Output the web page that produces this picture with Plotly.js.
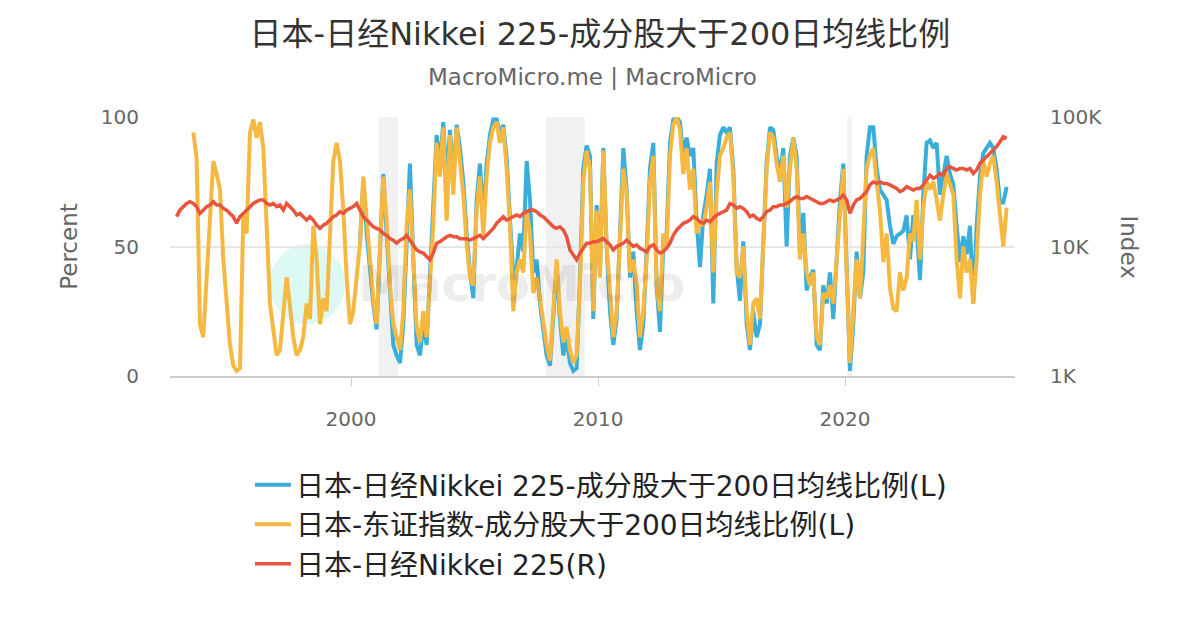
<!DOCTYPE html>
<html>
<head>
<meta charset="utf-8">
<script src="https://cdn.plot.ly/plotly-3.0.1.min.js"></script>
<style>
  html, body { margin: 0; padding: 0; background: #ffffff; }
  #chart { width: 1200px; height: 630px; }
</style>
</head>
<body>
<div id="chart"></div>
<script>
// samples are spaced evenly, about every 49 days, from SAMPLE_START
const SAMPLE_START = "1992-09-02";
const SAMPLE_DAYS = 49.29;

// 日本-东证指数 breadth (%), first sample index 7
const topixStart = 7;
const topixPct = [
  94, 84, 20, 15, 38, 60, 83, 78, 72, 45, 28, 12, 4, 2, 3, 62, 55, 94, 99, 92,
  98, 88, 58, 28, 18, 8, 10, 24, 38, 27, 15, 8, 10, 15, 28,
  22, 58, 45, 20, 30, 25, 54, 83, 90, 83, 64, 38, 20, 25, 38, 51, 77, 58, 45, 30,
  20, 50, 77, 60, 35, 20, 15, 10, 25, 58, 72, 45, 19, 13, 25, 15, 38, 58, 90, 77,
  96, 60,
  93, 70, 96, 83, 70, 51, 38, 35, 64, 77, 54, 77, 90, 96, 98, 90, 96, 80, 58, 25,
  40, 45, 40, 64, 55, 32, 38, 30, 20, 12, 6, 25, 45, 25, 13, 19, 10, 5, 8, 35,
  75, 87,
  80, 25, 64, 38, 87, 51, 32, 15, 25, 51, 80, 70, 40, 45, 35, 15, 25, 45, 75, 85,
  35, 25, 55, 50, 85, 97, 100, 95, 78, 88, 72, 80, 55, 60, 58, 65, 75, 40, 70, 85,
  88, 92,
  94, 77, 40, 38, 50, 25, 12, 28, 30, 22, 50, 80, 94, 92, 82, 75, 85, 65, 80, 92,
  80, 45, 55, 40, 35, 40, 15, 12, 32, 30, 35, 28, 45, 65, 80, 40, 5, 25, 45, 30,
  55, 80,
  85, 88, 75, 64, 44, 55, 34, 26, 25, 40, 33, 38, 55, 52, 68, 45, 65, 75, 72, 75,
  68, 60, 70, 78, 74, 70, 45, 30, 50, 40, 45, 28, 45, 70, 83, 77, 82, 85, 75, 64,
  50, 65,
];

// 日本-日经Nikkei 225 breadth (%), first sample index 57
const nikkeiStart = 57;
const nikkeiPct = [
  51, 75, 55, 40, 28, 18, 50, 78, 55, 30, 12, 8, 5, 20, 55, 82, 45, 12, 8, 20,
  12, 38, 62, 93, 82, 98, 75,
  95, 75, 97, 88, 75, 55, 40, 30, 68, 82, 60, 82, 93, 99, 99, 93, 97, 84, 62, 38,
  42, 55, 48, 83, 68, 40, 45, 28, 18, 8, 4, 22, 42, 22, 8, 15, 5, 2, 3, 38,
  80, 89,
  85, 22, 66, 40, 88, 50, 25, 12, 22, 55, 88, 72, 38, 48, 25, 10, 20, 48, 80, 90,
  35, 17, 50, 55, 90, 99, 100, 98, 85, 92, 85, 88, 60, 42, 62, 70, 80, 28, 82, 93,
  96, 94,
  96, 80, 42, 29, 52, 20, 10, 25, 15, 20, 48, 82, 96, 95, 85, 78, 88, 50, 85, 92,
  85, 48, 63, 33, 38, 41, 12, 10, 35, 28, 40, 22, 45, 68, 82, 40, 2, 20, 48, 30,
  40, 85,
  96, 96, 80, 72, 70, 68, 58, 51, 54, 55, 56, 62, 45, 62, 58, 37, 70, 90, 91, 88,
  90, 70, 78, 85, 78, 74, 58, 44, 54, 47, 58, 28, 58, 77, 86, 88, 90, 88, 80, 67,
  67, 73,
];

// 日本-日经Nikkei 225 index level, in thousands, first sample index 2
const indexStart = 2;
const nikkeiK = [
  17.0, 19.1, 20.3, 21.5, 22.2, 21.5, 20.3, 18.0, 19.1, 20.3,
  20.9, 22.2, 20.9, 20.9, 19.7, 19.1, 18.0, 17.0, 15.1, 17.0,
  18.0, 19.1, 20.3, 21.5, 22.2, 22.9, 22.9, 21.5, 20.9, 21.5,
  20.3, 20.9, 19.1, 21.5, 20.3, 19.1, 17.5, 18.0, 17.0, 16.0,
  17.0, 16.0, 14.6, 13.8, 14.6, 15.1, 16.0, 17.0, 17.5, 18.6,
  18.0, 19.1, 19.7, 20.3, 21.5, 19.1, 17.0, 16.0, 15.1, 14.2,
  13.8, 13.4, 12.6, 12.2, 11.5, 11.2, 10.6, 11.2, 11.5, 12.2,
  11.2, 10.3, 9.4, 9.1, 8.9, 8.35, 7.9, 8.9, 10.6, 10.9,
  11.5, 11.9,
  12.2, 11.9, 11.9, 11.5, 11.5, 11.5, 11.2, 11.5, 11.9, 12.2,
  11.5, 12.2, 13.0, 13.8, 15.1, 16.0, 17.0, 16.0, 16.5, 17.0,
  17.5, 17.0, 18.0, 18.6, 19.1, 19.1, 18.6, 17.5, 17.0, 16.0,
  15.1, 14.2, 13.8, 14.2, 13.4, 11.9, 9.4, 8.6, 7.9, 8.9,
  9.7, 10.6,
  10.6, 10.9, 10.9, 11.2, 11.5, 10.9, 10.3, 9.4, 10.0, 10.3,
  10.6, 11.2, 10.6, 10.0, 10.3, 9.7, 9.4, 9.1, 10.0, 10.3,
  9.4, 8.9, 9.1, 9.7, 10.6, 12.2, 13.4, 14.2, 15.1, 15.5,
  16.0, 17.0, 16.5, 15.5, 15.1, 16.0, 15.5, 16.5, 17.5, 18.0,
  18.6, 19.1,
  21.5, 20.9, 19.7, 20.3, 19.7, 18.6, 17.0, 17.5, 16.5, 16.0,
  17.0, 18.6, 19.1, 20.3, 20.3, 20.9, 20.9, 21.5, 22.2, 23.5,
  24.3, 23.5, 23.5, 24.3, 23.5, 22.9, 22.2, 21.5, 21.5, 22.2,
  22.9, 22.2, 22.9, 23.5, 25.0, 22.9, 18.0, 20.9, 22.9, 23.5,
  25.0, 26.5,
  29.9, 31.5, 30.7, 31.5, 30.7, 30.7, 29.9, 29.0, 28.1, 26.5,
  27.3, 29.0, 28.1, 27.3, 28.1, 28.1, 29.9, 32.6, 35.6, 33.6,
  34.6, 36.7, 35.6, 40.1, 41.3, 40.1, 39.0, 40.1, 40.1, 39.0,
  40.1, 36.7, 39.0, 43.9, 46.6, 49.4, 52.4, 55.6, 59.0, 64.5,
  70.5, 68.4,
];

// shaded recession periods
const recessionStart = ["2001-02-15", "2007-11-20", "2020-02-01"];
const recessionEnd = ["2001-11-25", "2009-06-20", "2020-04-10"];

const seriesNames = [
  "日本-日经Nikkei 225-成分股大于200日均线比例(L)",
  "日本-东证指数-成分股大于200日均线比例(L)",
  "日本-日经Nikkei 225(R)",
];

const COLORS = {
  blue: "#3aaedb",
  yellow: "#f5b942",
  red: "#e8553c",
  text: "#333333",
  muted: "#666666",
  grid: "#e6e6e6",
  shade: "rgba(0,0,0,0.055)",
};
const FONT = "\"DejaVu Sans\", \"Noto Sans CJK SC\", sans-serif";

function sampleDates(first, count) {
  const base = new Date(SAMPLE_START + "T00:00:00Z").getTime();
  const dates = [];
  for (let k = 0; k < count; k++) {
    const t = base + (first + k) * SAMPLE_DAYS * 86400000;
    dates.push(new Date(t).toISOString().slice(0, 10));
  }
  return dates;
}

const traces = [
  {
    type: "scatter", mode: "lines", name: seriesNames[0],
    x: sampleDates(nikkeiStart, nikkeiPct.length), y: nikkeiPct,
    line: { color: COLORS.blue, width: 4 }, yaxis: "y",
  },
  {
    type: "scatter", mode: "lines", name: seriesNames[1],
    x: sampleDates(topixStart, topixPct.length), y: topixPct,
    line: { color: COLORS.yellow, width: 4 }, yaxis: "y",
  },
  {
    type: "scatter", mode: "lines", name: seriesNames[2],
    x: sampleDates(indexStart, nikkeiK.length), y: nikkeiK.map((v) => v * 1000),
    line: { color: COLORS.red, width: 3.5 }, yaxis: "y2",
  },
];

const shapes = recessionStart.map((s, k) => ({
  type: "rect", xref: "x", yref: "paper",
  x0: s, x1: recessionEnd[k], y0: 0, y1: 1,
  fillcolor: COLORS.shade, line: { width: 0 }, layer: "below",
}));
shapes.push({
  type: "circle", xref: "paper", yref: "paper",
  x0: 0.118, x1: 0.207, y0: 0.2, y1: 0.51,
  fillcolor: "rgba(64, 224, 190, 0.18)", line: { width: 0 }, layer: "below",
});

const layout = {
  width: 1200,
  height: 630,
  paper_bgcolor: "#ffffff",
  plot_bgcolor: "#ffffff",
  font: { family: FONT, color: COLORS.muted, size: 20 },
  margin: { l: 170, r: 185, t: 117, b: 254 },
  showlegend: true,
  hovermode: false,
  title: {
    text: "日本-日经Nikkei 225-成分股大于200日均线比例",
    font: { family: FONT, size: 32, color: COLORS.text },
    x: 0.5, xanchor: "center", y: 0.947, yanchor: "middle",
  },
  xaxis: {
    type: "date",
    range: ["1992-09-02", "2026-11-18"],
    tickvals: ["2000-01-01", "2010-01-01", "2020-01-01"],
    ticktext: ["2000", "2010", "2020"],
    showgrid: false,
    showline: true, linecolor: "#cccccc", linewidth: 1.5,
    ticks: "outside", ticklen: 8, tickcolor: "#cccccc",
    ticklabelstandoff: 16,
    tickfont: { size: 20, color: COLORS.muted },
    zeroline: false,
  },
  yaxis: {
    range: [0, 100],
    tickvals: [0, 50, 100],
    showgrid: true, gridcolor: COLORS.grid, gridwidth: 2,
    zeroline: false, showline: false,
    ticks: "outside", ticklen: 26, tickcolor: "rgba(0,0,0,0)",
    tickfont: { size: 20, color: COLORS.muted },
    title: { text: "Percent", font: { size: 23, color: COLORS.muted }, standoff: 16 },
  },
  yaxis2: {
    type: "log",
    overlaying: "y", side: "right",
    range: [3, 5],
    tickvals: [1000, 10000, 100000],
    ticktext: ["1K", "10K", "100K"],
    showgrid: false, zeroline: false, showline: false,
    ticks: "outside", ticklen: 30, tickcolor: "rgba(0,0,0,0)",
    tickfont: { size: 20, color: COLORS.muted },
  },
  legend: {
    orientation: "v",
    x: 0.51, xanchor: "center",
    y: -0.325, yanchor: "top",
    font: { size: 28, color: "#222222" },
    tracegroupgap: 0,
    itemwidth: 36,
  },
  shapes,
  annotations: [
    {
      text: "MacroMicro.me | MacroMicro",
      xref: "paper", yref: "paper", x: 0.5, y: 1.155,
      xanchor: "center", yanchor: "middle", showarrow: false,
      font: { size: 23, color: COLORS.muted },
    },
    {
      text: "Index",
      xref: "paper", yref: "paper", x: 1.135, y: 0.5,
      xanchor: "center", yanchor: "middle", showarrow: false, textangle: 90,
      font: { size: 23, color: COLORS.muted },
    },
    {
      text: "<b>MacroMicro</b>",
      xref: "paper", yref: "paper", x: 0.22, y: 0.355,
      xanchor: "left", yanchor: "middle", showarrow: false,
      font: { size: 50, color: "rgba(0,0,0,0.07)" },
    },
  ],
};

Plotly.newPlot("chart", traces, layout, { staticPlot: true, displayModeBar: false });
</script>
</body>
</html>
